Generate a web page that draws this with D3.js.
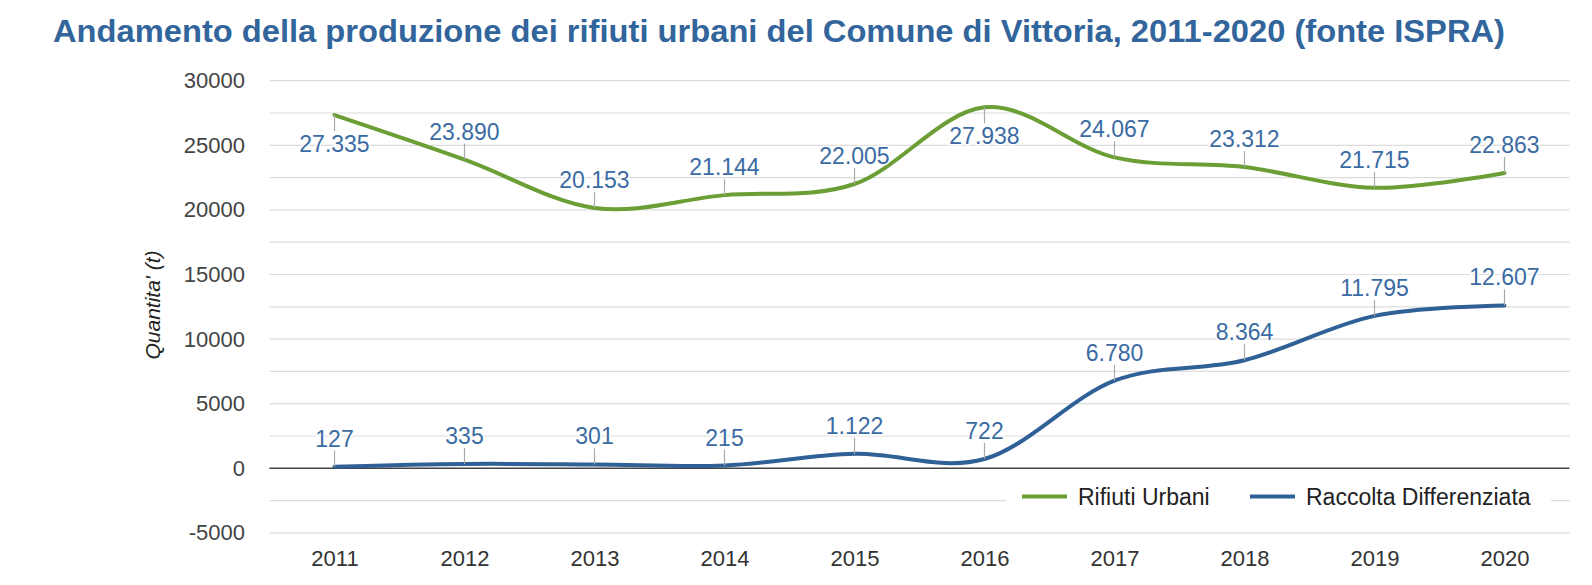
<!DOCTYPE html>
<html>
<head>
<meta charset="utf-8">
<script src="https://cdn.jsdelivr.net/npm/d3@7"></script>
<style>
  body { margin: 0; background: #fff; }
  text { font-family: 'Liberation Sans', Arial, sans-serif; }
</style>
</head>
<body>
<div id="chart"></div>
<script>
'use strict'

// Data (fonte ISPRA)
const years = ['2011', '2012', '2013', '2014', '2015', '2016', '2017', '2018', '2019', '2020']
const rifiutiUrbani = [27335, 23890, 20153, 21144, 22005, 27938, 24067, 23312, 21715, 22863]
const raccoltaDifferenziata = [127, 335, 301, 215, 1122, 722, 6780, 8364, 11795, 12607]
const seriesNames = ['Rifiuti Urbani', 'Raccolta Differenziata']
const yTicks = [-5000, 0, 5000, 10000, 15000, 20000, 25000, 30000]
const yMinorTicks = [-2500, 2500, 7500, 12500, 17500, 22500, 27500]
const titleText = 'Andamento della produzione dei rifiuti urbani del Comune di Vittoria, 2011-2020 (fonte ISPRA)'
const yTitle = "Quantita' (t)"

// Our canvas
const width = 1592,
  height = 585,
  plotLeft = 269.5,
  plotRight = 1569.5,
  plotTop = 80.7,
  plotBottom = 532.9

const colors = ['#6b9e35', '#2f6096']
const labelColor = '#3a6ba3'

const itFormat = d3.formatLocale({ decimal: ',', thousands: '.', grouping: [3], currency: ['€', ''] }).format(',d')

let svg = d3.select('#chart')
  .append('svg')
  .attr('width', width)
  .attr('height', height)

const x = d3.scalePoint()
  .domain(years)
  .range([plotLeft, plotRight])
  .padding(0.5)

const y = d3.scaleLinear()
  .domain([-5000, 30000])
  .range([plotBottom, plotTop])

// Title
svg.append('text')
  .attr('x', 53)
  .attr('y', 42)
  .attr('textLength', 1452)
  .attr('lengthAdjust', 'spacingAndGlyphs')
  .style('font-size', '31px')
  .style('font-weight', 'bold')
  .attr('fill', '#31659b')
  .text(titleText)

// Gridlines
svg.append('g')
  .selectAll('line')
  .data(yMinorTicks.concat(yTicks.filter(d => d !== 0)))
  .enter()
  .append('line')
  .attr('x1', plotLeft)
  .attr('x2', plotRight)
  .attr('y1', d => y(d))
  .attr('y2', d => y(d))
  .attr('stroke', '#dcdcdc')
  .attr('stroke-width', 1.2)

// Y axis labels (plain hyphen for negatives, like the original)
const axisLeft = d3.axisLeft(y).tickValues(yTicks).tickSize(0).tickPadding(0).tickFormat(d => String(d))
let gy = svg.append('g')
  .attr('transform', 'translate(245, 0)')
  .call(axisLeft)
gy.select('.domain').remove()
gy.selectAll('text')
  .style('font-size', '22px')
  .style('font-family', "'Liberation Sans', Arial, sans-serif")
  .attr('fill', '#444')

// X axis labels
const axisBottom = d3.axisBottom(x).tickSize(0).tickPadding(0)
let gx = svg.append('g')
  .attr('transform', 'translate(0, 550)')
  .call(axisBottom)
gx.select('.domain').remove()
gx.selectAll('text')
  .style('font-size', '22px')
  .style('font-family', "'Liberation Sans', Arial, sans-serif")
  .attr('fill', '#333')
  .attr('dy', '0.72em')

// Y axis title
svg.append('text')
  .attr('transform', 'translate(160, 305) rotate(-90)')
  .attr('text-anchor', 'middle')
  .style('font-size', '21px')
  .style('font-style', 'italic')
  .attr('fill', '#222')
  .text(yTitle)

// Legend, sitting on the -2500 gridline
let legendY = y(-2500)
svg.append('rect')
  .attr('x', 1006)
  .attr('y', legendY - 14)
  .attr('width', 545)
  .attr('height', 28)
  .attr('fill', '#fff')
const legendX = [1022, 1250]
seriesNames.forEach((name, i) => {
  svg.append('line')
    .attr('x1', legendX[i])
    .attr('x2', legendX[i] + 45)
    .attr('y1', legendY - 4)
    .attr('y2', legendY - 4)
    .attr('stroke', colors[i])
    .attr('stroke-width', 4)
  svg.append('text')
    .attr('x', legendX[i] + 56)
    .attr('y', legendY + 4)
    .style('font-size', '23px')
    .attr('fill', '#222')
    .text(name)
})

// Zero line
svg.append('line')
  .attr('x1', plotLeft)
  .attr('x2', plotRight)
  .attr('y1', y(0))
  .attr('y2', y(0))
  .attr('stroke', '#444')
  .attr('stroke-width', 1.5)

// Lines
const line = d3.line()
  .x((d, i) => x(years[i]))
  .y(d => y(d))
  .curve(d3.curveCardinal.tension(0))

const series = [rifiutiUrbani, raccoltaDifferenziata]

series.forEach((values, s) => {
  svg.append('path')
    .datum(values)
    .attr('fill', 'none')
    .attr('stroke', colors[s])
    .attr('stroke-width', 4)
    .attr('stroke-linecap', 'round')
    .attr('d', line)
})

// Annotations with stems (below the point when there is no room above)
const stem = 16, gap = 4, capH = 17
series.forEach((values, s) => {
  let g = svg.append('g')
  values.forEach((v, i) => {
    let px = x(years[i]), py = y(v)
    let below = py - stem - gap - capH < plotTop
    let sy = below ? py + stem : py - stem
    g.append('line')
      .attr('x1', px).attr('x2', px)
      .attr('y1', py).attr('y2', sy)
      .attr('stroke', '#aaa')
      .attr('stroke-width', 1.2)
    g.append('text')
      .attr('x', px)
      .attr('y', below ? sy + gap + capH : sy - gap)
      .attr('text-anchor', 'middle')
      .style('font-size', '23px')
      .attr('fill', labelColor)
      .attr('stroke', '#fff')
      .attr('stroke-width', 3)
      .style('paint-order', 'stroke')
      .text(itFormat(v))
  })
})
</script>
</body>
</html>
